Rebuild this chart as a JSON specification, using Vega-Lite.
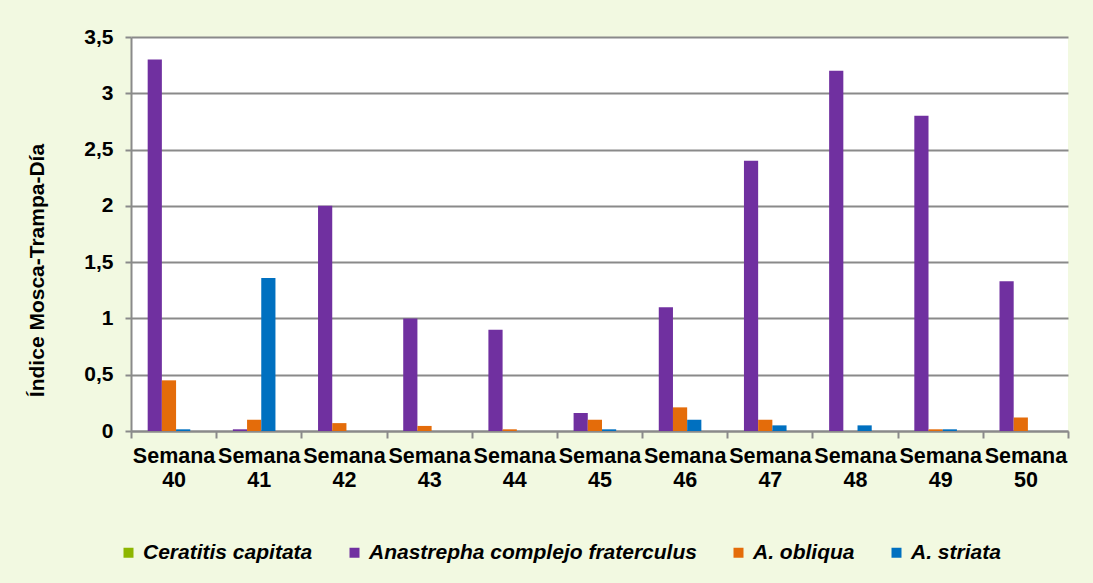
{
  "$schema": "https://vega.github.io/schema/vega-lite/v6.json",
  "autosize": {"type": "none"},
  "padding": {"left": 131, "top": 37, "right": 25, "bottom": 152},
  "width": 937,
  "height": 394,
  "background": "#F2F9E1",
  "config": {
    "view": {"fill": "white", "stroke": null},
    "font": "Liberation Sans"
  },
  "data": {
    "values": [
      {"semana": "Semana 40", "especie": "Ceratitis capitata", "indice": 0},
      {"semana": "Semana 40", "especie": "Anastrepha complejo fraterculus", "indice": 3.3},
      {"semana": "Semana 40", "especie": "A. obliqua", "indice": 0.45},
      {"semana": "Semana 40", "especie": "A. striata", "indice": 0.015},
      {"semana": "Semana 41", "especie": "Ceratitis capitata", "indice": 0},
      {"semana": "Semana 41", "especie": "Anastrepha complejo fraterculus", "indice": 0.015},
      {"semana": "Semana 41", "especie": "A. obliqua", "indice": 0.1},
      {"semana": "Semana 41", "especie": "A. striata", "indice": 1.36},
      {"semana": "Semana 42", "especie": "Ceratitis capitata", "indice": 0},
      {"semana": "Semana 42", "especie": "Anastrepha complejo fraterculus", "indice": 2.0},
      {"semana": "Semana 42", "especie": "A. obliqua", "indice": 0.07},
      {"semana": "Semana 42", "especie": "A. striata", "indice": 0},
      {"semana": "Semana 43", "especie": "Ceratitis capitata", "indice": 0},
      {"semana": "Semana 43", "especie": "Anastrepha complejo fraterculus", "indice": 1.0},
      {"semana": "Semana 43", "especie": "A. obliqua", "indice": 0.045},
      {"semana": "Semana 43", "especie": "A. striata", "indice": 0},
      {"semana": "Semana 44", "especie": "Ceratitis capitata", "indice": 0},
      {"semana": "Semana 44", "especie": "Anastrepha complejo fraterculus", "indice": 0.9},
      {"semana": "Semana 44", "especie": "A. obliqua", "indice": 0.015},
      {"semana": "Semana 44", "especie": "A. striata", "indice": 0},
      {"semana": "Semana 45", "especie": "Ceratitis capitata", "indice": 0},
      {"semana": "Semana 45", "especie": "Anastrepha complejo fraterculus", "indice": 0.16},
      {"semana": "Semana 45", "especie": "A. obliqua", "indice": 0.1},
      {"semana": "Semana 45", "especie": "A. striata", "indice": 0.015},
      {"semana": "Semana 46", "especie": "Ceratitis capitata", "indice": 0},
      {"semana": "Semana 46", "especie": "Anastrepha complejo fraterculus", "indice": 1.1},
      {"semana": "Semana 46", "especie": "A. obliqua", "indice": 0.21},
      {"semana": "Semana 46", "especie": "A. striata", "indice": 0.1},
      {"semana": "Semana 47", "especie": "Ceratitis capitata", "indice": 0},
      {"semana": "Semana 47", "especie": "Anastrepha complejo fraterculus", "indice": 2.4},
      {"semana": "Semana 47", "especie": "A. obliqua", "indice": 0.1},
      {"semana": "Semana 47", "especie": "A. striata", "indice": 0.05},
      {"semana": "Semana 48", "especie": "Ceratitis capitata", "indice": 0},
      {"semana": "Semana 48", "especie": "Anastrepha complejo fraterculus", "indice": 3.2},
      {"semana": "Semana 48", "especie": "A. obliqua", "indice": 0},
      {"semana": "Semana 48", "especie": "A. striata", "indice": 0.05},
      {"semana": "Semana 49", "especie": "Ceratitis capitata", "indice": 0},
      {"semana": "Semana 49", "especie": "Anastrepha complejo fraterculus", "indice": 2.8},
      {"semana": "Semana 49", "especie": "A. obliqua", "indice": 0.015},
      {"semana": "Semana 49", "especie": "A. striata", "indice": 0.015},
      {"semana": "Semana 50", "especie": "Ceratitis capitata", "indice": 0},
      {"semana": "Semana 50", "especie": "Anastrepha complejo fraterculus", "indice": 1.33},
      {"semana": "Semana 50", "especie": "A. obliqua", "indice": 0.12},
      {"semana": "Semana 50", "especie": "A. striata", "indice": 0}
    ]
  },
  "mark": {"type": "bar"},
  "encoding": {
    "x": {
      "field": "semana",
      "type": "nominal",
      "sort": null,
      "scale": {"paddingInner": 0, "paddingOuter": 0},
      "axis": {
        "title": null,
        "labelAngle": 0,
        "labelExpr": "split(datum.label, ' ')",
        "labelFont": "Liberation Sans",
        "labelFontWeight": "bold",
        "labelFontSize": 21.5,
        "labelLineHeight": 24,
        "labelColor": "black",
        "labelPadding": 7,
        "tickBand": "extent",
        "tickSize": 7,
        "tickColor": "#8a8a8a",
        "tickWidth": 2,
        "domainColor": "#8a8a8a",
        "domainWidth": 2,
        "grid": false
      }
    },
    "xOffset": {
      "field": "especie",
      "type": "nominal",
      "scale": {
        "domain": ["Ceratitis capitata", "Anastrepha complejo fraterculus", "A. obliqua", "A. striata"],
        "paddingInner": 0,
        "paddingOuter": 4.0845,
        "align": 0.0874
      }
    },
    "y": {
      "field": "indice",
      "type": "quantitative",
      "scale": {"domain": [0, 3.5], "nice": false},
      "axis": {
        "title": "Índice Mosca-Trampa-Día",
        "titleFont": "Liberation Sans",
        "titleFontWeight": "bold",
        "titleFontSize": 21,
        "titleColor": "black",
        "titlePadding": 36,
        "titleY": 233,
        "values": [0, 0.5, 1, 1.5, 2, 2.5, 3, 3.5],
        "labelExpr": "replace(format(datum.value, '.1~f'), '.', ',')",
        "labelFont": "Liberation Sans",
        "labelFontWeight": "bold",
        "labelFontSize": 21,
        "labelColor": "black",
        "labelPadding": 12,
        "tickSize": 6,
        "tickColor": "#8a8a8a",
        "tickWidth": 2,
        "domainColor": "#8a8a8a",
        "domainWidth": 2,
        "grid": true,
        "gridColor": "#8a8a8a",
        "gridWidth": 2
      }
    },
    "color": {
      "field": "especie",
      "type": "nominal",
      "scale": {
        "domain": ["Ceratitis capitata", "Anastrepha complejo fraterculus", "A. obliqua", "A. striata"],
        "range": ["#8DB600", "#7030A0", "#E46C0A", "#0070C0"]
      },
      "legend": {
        "title": null,
        "orient": "none",
        "direction": "horizontal",
        "legendX": -13,
        "legendY": 505,
        "symbolType": "square",
        "symbolSize": 100,
        "symbolStrokeWidth": 0,
        "labelFont": "Liberation Sans",
        "labelFontStyle": "italic",
        "labelFontWeight": "bold",
        "labelFontSize": 21,
        "labelColor": "black",
        "labelOffset": 4,
        "columnPadding": 31,
        "labelLimit": 500
      }
    }
  }
}
